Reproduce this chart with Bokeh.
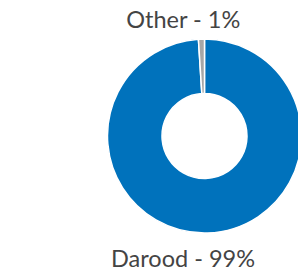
import math
from bokeh.plotting import figure
from bokeh.models import Range1d, ColumnDataSource
from bokeh.core.properties import value
from bokeh.embed import file_html
from bokeh.resources import INLINE

categories = ["Darood", "Other"]
values = [99, 1]
colors = ["#0072BC", "#A6A6A6"]

W, H = 298, 271
p = figure(width=W, height=H, output_backend="svg", toolbar_location=None,
           x_range=Range1d(0, W), y_range=Range1d(0, H),
           min_border=0, min_border_left=0, min_border_right=0,
           min_border_top=0, min_border_bottom=0)
p.axis.visible = False
p.grid.visible = False
p.outline_line_color = None
p.background_fill_color = "white"

cx, cy = 204, H - 135.5
r_out, r_in = 97, 42.5

total = sum(values)
starts, ends = [], []
acc = 0.0
for v in values:
    s = math.pi / 2 - 2 * math.pi * acc / total
    acc += v
    e = math.pi / 2 - 2 * math.pi * acc / total
    starts.append(s)
    ends.append(e)

src = ColumnDataSource(dict(x=[cx] * len(values), y=[cy] * len(values),
                            start=starts, end=ends, color=colors, cat=categories))
p.annular_wedge(x="x", y="y", inner_radius=r_in, outer_radius=r_out,
                start_angle="start", end_angle="end", direction="clock",
                fill_color="color", line_color="white", line_width=1.5, source=src)

labels = [f"{c} - {v}%" for c, v in zip(categories, values)]
lx = [182.5, 183]
ly = [H - 257, H - 18]
p.text(x=lx, y=ly, text=labels, text_font=value("Lato"), text_font_size="23.5px",
       text_color="#444444", text_align="center", text_baseline="middle")

open("out.html", "w").write(file_html(p, INLINE))
